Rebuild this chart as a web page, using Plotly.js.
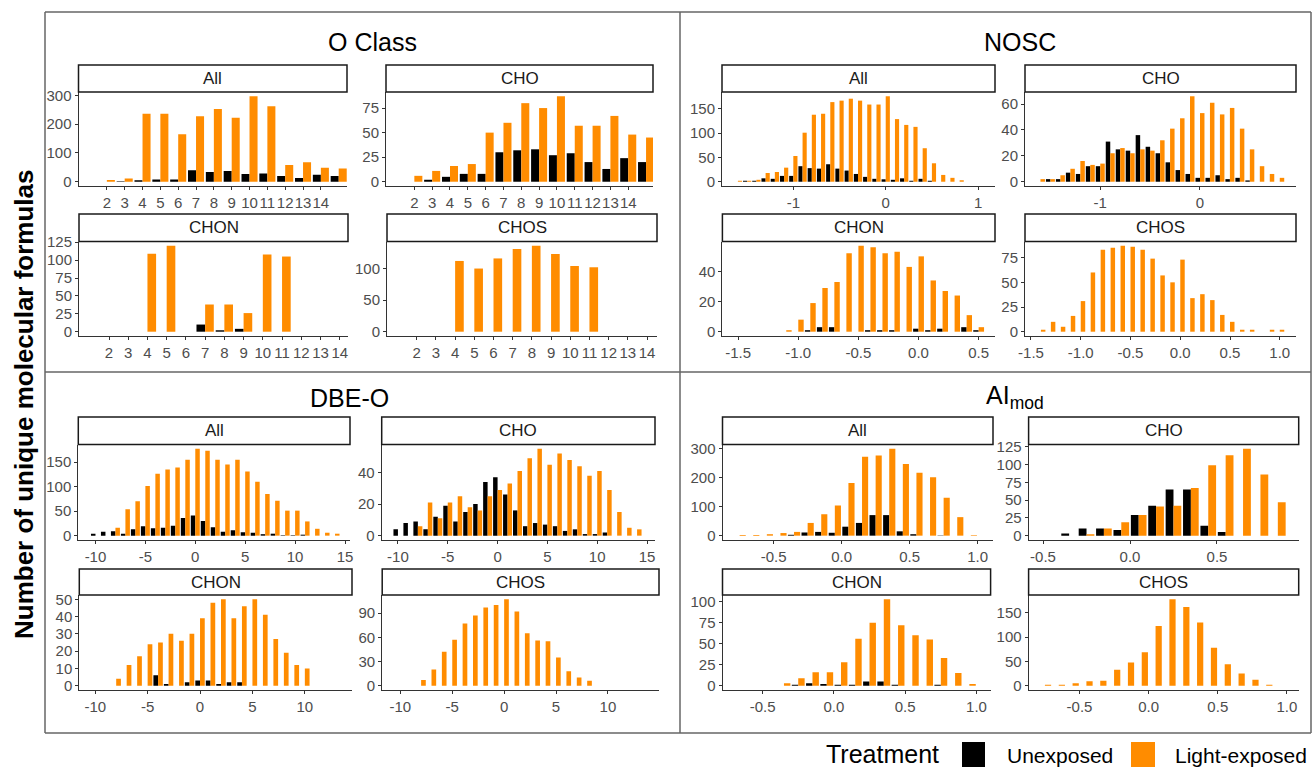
<!DOCTYPE html>
<html><head><meta charset="utf-8">
<script src="https://cdn.plot.ly/plotly-3.0.1.min.js"></script>
<style>body{margin:0;background:#fff}#chart{width:1314px;height:767px}</style>
</head><body><div id="chart"></div>
<script>
// ---------------- DATA ----------------
const oClassBins = [2,3,4,5,6,7,8,9,10,11,12,13,14,15];
const oAllUnexp  = [0,2,5,8,8,40,34,37,27,29,20,13,24,20];
const oAllLight  = [6,11,236,236,165,228,253,222,297,262,58,68,49,46];
const oChoUnexp  = [0,2,5,8,8,30,32,33,27,29,20,13,24,20];
const oChoLight  = [6,11,16,18,50,60,80,75,87,57,57,67,48,45];
const oChonUnexp = [0,0,0,0,0,10,2,4,0,0,0,0,0,0];
const oChonLight = [0,0,109,120,0,38,38,26,108,105,0,0,0,0];
const oChosUnexp = [0,0,0,0,0,0,0,0,0,0,0,0,0,0];
const oChosLight = [0,0,112,100,116,131,136,123,104,102,0,0,0,0];

const noscBins = [-1.6,-1.5,-1.4,-1.3,-1.2,-1.1,-1.0,-0.9,-0.8,-0.7,-0.6,-0.5,-0.4,-0.3,-0.2,-0.1,0.0,0.1,0.2,0.3,0.4,0.5,0.6,0.7,0.8,0.9,1.0];
const nAllUnexp  = [0,2,2,7,6,12,12,32,28,27,36,27,23,16,10,6,5,4,7,2,6,2,0,0,0,0,0];
const nAllLight  = [2,2,4,18,20,29,53,101,138,140,164,167,171,167,159,159,176,129,117,113,69,38,14,8,3,0,0];
const nChoUnexp  = [0,2,2,7,6,12,12,31,25,24,36,27,22,15,9,6,3,3,5,2,3,1,0,0,0,0,0];
const nChoLight  = [2,2,5,10,16,13,14,22,26,22,25,24,32,41,49,66,53,61,52,57,41,25,12,6,3,0,0];
const nChonUnexp = [0,0,0,0,0,0,0,1,3,3,0,0,1,1,1,0,2,1,2,0,3,1,0,0,0,0,0];
const nChonLight = [0,0,0,0,0,1,8,19,29,33,52,57,56,52,53,43,50,34,27,24,11,3,0,0,0,0,0];
const nChosUnexp = [0,0,0,0,0,0,0,0,0,0,0,0,0,0,0,0,0,0,0,0,0,0,0,0,0,0,0];
const nChosLight = [0,0,2,10,5,16,31,60,83,85,87,86,83,74,57,50,73,34,38,32,17,10,2,2,0,2,2];

const dbeBins = [-10,-9,-8,-7,-6,-5,-4,-3,-2,-1,0,1,2,3,4,5,6,7,8,9,10,11,12,13,14];
const dAllUnexp  = [4,8,9,4,13,19,15,16,20,36,41,30,17,8,11,7,6,3,4,1,1,2,0,0,0];
const dAllLight  = [0,0,16,54,70,101,126,135,139,155,177,173,155,145,155,131,110,85,71,51,51,29,14,6,4];
const dChoUnexp  = [4,8,9,4,12,19,9,15,20,34,37,26,16,6,8,7,6,3,4,1,1,2,0,0,0];
const dChoLight  = [0,0,6,21,11,21,25,18,16,25,29,33,41,49,55,45,52,48,44,38,41,29,15,5,4];
const dChonUnexp = [0,0,0,0,0,0,6,1,0,2,3,3,1,2,2,0,0,0,0,0,0,0,0,0,0];
const dChonLight = [0,0,4,12,17,24,25,30,26,30,39,48,50,39,46,50,41,27,19,12,10,0,0,0,0];
const dChosUnexp = [0,0,0,0,0,0,0,0,0,0,0,0,0,0,0,0,0,0,0,0,0,0,0,0,0];
const dChosLight = [0,0,7,20,42,57,77,87,97,100,107,92,65,56,55,35,18,10,6,0,0,0,0,0,0];

const aimodBins = [-0.75,-0.65,-0.55,-0.45,-0.35,-0.25,-0.15,-0.05,0.05,0.15,0.25,0.35,0.45,0.55,0.65,0.75,0.85,0.95];
const aAllUnexp  = [0,0,0,0,3,11,13,10,31,44,71,71,15,5,0,1,0,0];
const aAllLight  = [2,2,5,9,13,44,74,104,182,273,277,300,248,217,202,131,64,2];
const aChoUnexp  = [0,0,0,0,3,10,10,8,29,42,65,65,14,5,0,0,0,0];
const aChoLight  = [0,0,0,0,0,2,10,19,29,41,42,67,99,113,122,86,47,0];
const aChonUnexp = [0,0,0,0,0,1,3,2,1,1,5,5,1,0,0,1,0,0];
const aChonLight = [0,0,0,0,3,9,16,16,28,56,75,103,72,60,55,33,15,2];
const aChosUnexp = [0,0,0,0,0,0,0,0,0,0,0,0,0,0,0,0,0,0];
const aChosLight = [2,2,5,9,10,33,48,69,123,178,162,130,78,44,25,12,2,0];

const oClassTicks = [2,3,4,5,6,7,8,9,10,11,12,13,14];
const noscTicksCoarse = [-1,0,1];
const noscTicksFine = [-1.5,-1.0,-0.5,0.0,0.5,1.0];
const dbeTicks = [-10,-5,0,5,10,15];
const aimodTicks = [-0.5,0.0,0.5,1.0];

const facetLabels = ['All','CHO','CHON','CHOS'];
const quadrantTitles = ['O Class','NOSC','DBE-O','AI<sub>mod</sub>'];
const seriesNames = ['Unexposed','Light-exposed'];
const legendTitle = 'Treatment';
const yTitle = 'Number of unique molecular formulas';

// ---------------- LAYOUT CONFIG ----------------
const W = 1314, H = 767;
const COL_U = '#000000', COL_L = '#FF8C00';
const FONT = 'Arial, "Liberation Sans", sans-serif';

// px: [left, right, stripTop, plotTop, axisY]
const panels = [
  {lab:0, bins:oClassBins, u:oAllUnexp,  l:oAllLight,  step:1,   px:[78.5,347,65,92,186],   xr:[0.41,15.465], xt:oClassTicks, dec:0, yd:100},
  {lab:1, bins:oClassBins, u:oChoUnexp,  l:oChoLight,  step:1,   px:[386,653,65,92,186],    xr:[0.41,15.39],  xt:oClassTicks, dec:0, yd:25},
  {lab:2, bins:oClassBins, u:oChonUnexp, l:oChonLight, step:1,   px:[79,348,214,241.5,336], xr:[0.44,14.43],  xt:oClassTicks, dec:0, yd:25},
  {lab:3, bins:oClassBins, u:oChosUnexp, l:oChosLight, step:1,   px:[387,657,214,241.5,336],xr:[0.45,14.52],  xt:oClassTicks, dec:0, yd:50},

  {lab:0, bins:noscBins, u:nAllUnexp,  l:nAllLight,  step:0.1, px:[722,995,65,92,186],     xr:[-1.772,1.183], xt:noscTicksCoarse, dec:0, yd:50},
  {lab:1, bins:noscBins, u:nChoUnexp,  l:nChoLight,  step:0.1, px:[1025,1296,65,92,186],   xr:[-1.755,0.963], xt:noscTicksCoarse, dec:0, yd:20},
  {lab:2, bins:noscBins, u:nChonUnexp, l:nChonLight, step:0.1, px:[722.4,995,214,241.5,336], xr:[-1.631,0.636], xt:noscTicksFine, dec:1, yd:20},
  {lab:3, bins:noscBins, u:nChosUnexp, l:nChosLight, step:0.1, px:[1025,1296,214,241.5,336], xr:[-1.56,1.163], xt:noscTicksFine, dec:1, yd:25},

  {lab:0, bins:dbeBins, u:dAllUnexp,  l:dAllLight,  step:1, px:[78.3,350,417,444.5,540],  xr:[-11.72,15.5],  xt:dbeTicks, dec:0, yd:50},
  {lab:1, bins:dbeBins, u:dChoUnexp,  l:dChoLight,  step:1, px:[381.7,655,417,444.5,540], xr:[-11.63,15.8],  xt:dbeTicks, dec:0, yd:20},
  {lab:2, bins:dbeBins, u:dChonUnexp, l:dChonLight, step:1, px:[79.3,352,569,595,690],    xr:[-11.52,14.5],  xt:dbeTicks, dec:0, yd:10},
  {lab:3, bins:dbeBins, u:dChosUnexp, l:dChosLight, step:1, px:[382.2,659,569,595,690],   xr:[-11.75,14.92], xt:dbeTicks, dec:0, yd:30},

  {lab:0, bins:aimodBins, u:aAllUnexp,  l:aAllLight,  step:0.1, px:[722.5,993,417,444.5,540],   xr:[-0.876,1.113], xt:aimodTicks, dec:1, yd:100},
  {lab:1, bins:aimodBins, u:aChoUnexp,  l:aChoLight,  step:0.1, px:[1028.6,1298.7,417,444.5,540], xr:[-0.583,0.97], xt:aimodTicks, dec:1, yd:25},
  {lab:2, bins:aimodBins, u:aChonUnexp, l:aChonLight, step:0.1, px:[722.5,990.6,569,595,690],   xr:[-0.781,1.099], xt:aimodTicks, dec:1, yd:25},
  {lab:3, bins:aimodBins, u:aChosUnexp, l:aChosLight, step:0.1, px:[1028.6,1298.7,569,595,690], xr:[-0.868,1.085], xt:aimodTicks, dec:1, yd:50}
];

const traces = [];
const layout = {
  width: W, height: H, margin:{l:0,r:0,t:0,b:0},
  paper_bgcolor:'#ffffff', plot_bgcolor:'rgba(0,0,0,0)',
  showlegend:false, barmode:'overlay',
  font:{family:FONT, color:'#000'},
  annotations:[], shapes:[]
};

function fmt(v, dec){ return dec ? v.toFixed(dec) : String(Math.round(v)); }

panels.forEach((p, i) => {
  const k = i + 1;
  const xs = k === 1 ? '' : String(k);
  const [L, R, st, pt, ay] = p.px;
  const bw = 0.45 * p.step;
  traces.push({type:'bar', x:p.bins, y:p.u, xaxis:'x'+xs, yaxis:'y'+xs, name:seriesNames[0],
    offset:-bw, width:bw, marker:{color:COL_U, line:{width:0}}, hoverinfo:'x+y'});
  traces.push({type:'bar', x:p.bins, y:p.l, xaxis:'x'+xs, yaxis:'y'+xs, name:seriesNames[1],
    offset:0, width:bw, marker:{color:COL_L, line:{width:0}}, hoverinfo:'x+y'});
  const M = Math.max(...p.u, ...p.l);
  const yr = [-0.05*M, 1.05*M];
  const yt = [];
  for (let v = 0; v <= yr[1]; v += p.yd) yt.push(v);
  const common = {ticks:'outside', ticklen:3, tickwidth:1, tickcolor:'#333',
    showline:true, linecolor:'#333', linewidth:1, showgrid:false, zeroline:false,
    tickfont:{family:FONT, size:15, color:'#4d4d4d'}, fixedrange:true, tickangle:0};
  layout['xaxis'+xs] = Object.assign({}, common, {
    domain:[L/W, R/W], range:p.xr, anchor:'y'+xs,
    tickmode:'array', tickvals:p.xt, ticktext:p.xt.map(v=>fmt(v,p.dec))});
  layout['yaxis'+xs] = Object.assign({}, common, {
    domain:[1-ay/H, 1-pt/H], range:yr, anchor:'x'+xs,
    tickmode:'array', tickvals:yt, ticktext:yt.map(v=>fmt(v,0))});
  // strip
  layout.shapes.push({type:'rect', xref:'paper', yref:'paper', x0:L/W, x1:R/W, y0:1-pt/H, y1:1-st/H,
    fillcolor:'#ffffff', line:{color:'#1a1a1a', width:1.5}});
  layout.annotations.push({xref:'paper', yref:'paper', x:(L+R)/2/W, y:1-(st+pt)/2/H,
    text:facetLabels[p.lab], showarrow:false, xanchor:'center', yanchor:'middle',
    font:{family:FONT, size:17, color:'#1a1a1a'}});
});

// quadrant titles
const titlePos = [[372,42],[1020,42],[349,398],[1015,397]];
quadrantTitles.forEach((t, i) => {
  layout.annotations.push({xref:'paper', yref:'paper', x:titlePos[i][0]/W, y:1-titlePos[i][1]/H,
    text:t, showarrow:false, xanchor:'center', yanchor:'middle', font:{family:FONT, size:25, color:'#000'}});
});

// y title
layout.annotations.push({xref:'paper', yref:'paper', x:24/W, y:1-404/H, text:'<b>'+yTitle+'</b>',
  textangle:-90, showarrow:false, xanchor:'center', yanchor:'middle', font:{family:FONT, size:26, color:'#000'}});

// frame lines
const frame = {color:'#666666', width:1.5};
[[45,12,1311,12],[45,733,1311,733],[45,12,45,733],[1311,12,1311,733],[680,12,680,733],[45,372,1311,372]].forEach(s=>{
  layout.shapes.push({type:'line', xref:'paper', yref:'paper', x0:s[0]/W, y0:1-s[1]/H, x1:s[2]/W, y1:1-s[3]/H, line:frame});
});

// legend
layout.annotations.push({xref:'paper', yref:'paper', x:882/W, y:1-754/H, text:legendTitle, showarrow:false,
  xanchor:'center', yanchor:'middle', font:{family:FONT, size:25, color:'#000'}});
layout.shapes.push({type:'rect', xref:'paper', yref:'paper', x0:962/W, x1:985/W, y0:0, y1:1-742/H, fillcolor:COL_U, line:{width:0}});
layout.shapes.push({type:'rect', xref:'paper', yref:'paper', x0:1131/W, x1:1155/W, y0:0, y1:1-742/H, fillcolor:COL_L, line:{width:0}});
layout.annotations.push({xref:'paper', yref:'paper', x:1060/W, y:1-755/H, text:seriesNames[0], showarrow:false,
  xanchor:'center', yanchor:'middle', font:{family:FONT, size:21, color:'#000'}});
layout.annotations.push({xref:'paper', yref:'paper', x:1241/W, y:1-755/H, text:seriesNames[1], showarrow:false,
  xanchor:'center', yanchor:'middle', font:{family:FONT, size:21, color:'#000'}});

Plotly.newPlot('chart', traces, layout, {staticPlot:true, displayModeBar:false});
</script></body></html>
